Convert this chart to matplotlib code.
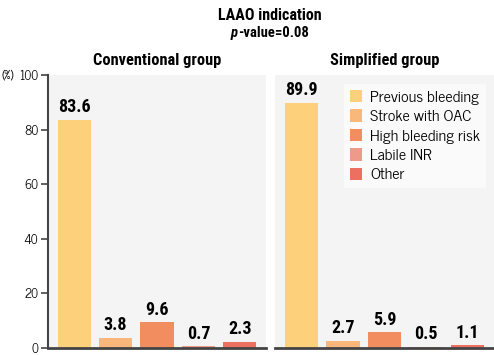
import matplotlib

matplotlib.use("Agg")

import matplotlib.pyplot as plt
from matplotlib.patches import Patch

categories = ["Previous bleeding", "Stroke with OAC", "High bleeding risk", "Labile INR", "Other"]
conventional = [83.6, 3.8, 9.6, 0.7, 2.3]
simplified = [89.9, 2.7, 5.9, 0.5, 1.1]
colors = ["#FDD07C", "#F9B77C", "#F28D5F", "#ED9A8B", "#EC6F60"]
yticks = [0, 20, 40, 60, 80, 100]

COND = ["Roboto Condensed", "Archivo Narrow", "Liberation Sans Narrow", "DejaVu Sans"]
PLAIN = ["News Cycle", "Liberation Sans", "DejaVu Sans"]
PANEL_BG = "#F4F4F4"
SPINE = "#444444"

fig = plt.figure(figsize=(4.94, 3.55), dpi=100)
ax_left = fig.add_axes([48 / 494, 7 / 355, 218 / 494, 273 / 355])
ax_right = fig.add_axes([275 / 494, 7 / 355, 219 / 494, 273 / 355])

x = list(range(len(categories)))
for axis, values, title in ((ax_left, conventional, "Conventional group"), (ax_right, simplified, "Simplified group")):
    axis.set_facecolor(PANEL_BG)
    axis.bar(x, values, width=0.8, color=colors)
    for xi, value in zip(x, values):
        axis.text(xi, value + 1.2, f"{value:.1f}", ha="center", va="bottom",
                  fontsize=13, fontweight="bold", family=COND)
    axis.set_xlim(-0.63, 4.63)
    axis.set_ylim(0, 100)
    axis.set_xticks([])
    for side in ("top", "right"):
        axis.spines[side].set_visible(False)
    axis.spines["bottom"].set_color(SPINE)
    axis.spines["bottom"].set_linewidth(2.0)
    axis.set_title(title, fontsize=11.8, fontweight="bold", family=COND, pad=7)

ax_left.spines["left"].set_color(SPINE)
ax_left.spines["left"].set_linewidth(1.5)
ax_left.set_yticks(yticks)
ax_left.set_yticklabels([str(v) for v in yticks], fontsize=9, family=PLAIN)
ax_left.tick_params(axis="y", length=5, width=1.2, color=SPINE, pad=2)
# "(%)" sits at the far left edge, level with the 100 tick
fig.text(1 / 494, 1 - 75 / 355, "(%)", ha="left", va="center", fontsize=8.5, family=PLAIN)

ax_right.spines["left"].set_visible(False)
ax_right.set_yticks([])

handles = [Patch(facecolor=c, edgecolor="none") for c in colors]
ax_right.legend(handles, categories, loc="upper right", bbox_to_anchor=(1.0, 0.995),
                prop={"family": PLAIN, "size": 11.5}, frameon=True, fancybox=False,
                handlelength=0.8, handleheight=0.8, handletextpad=0.5, labelspacing=0.3,
                borderpad=0.35, facecolor="#FAFAFA", edgecolor="none", framealpha=1.0)

fig.text(270 / 494, 1 - 15 / 355, "LAAO indication", ha="center", va="center",
         fontsize=11.5, fontweight="bold", family=COND)
p_text = fig.text(231 / 494, 1 - 33 / 355, "p", ha="left", va="center", style="italic",
                  fontsize=10.5, fontweight="bold", family=COND)
fig.text(0, 0, "")
plt.annotate("-value=0.08", xy=(1, 0), xycoords=p_text, ha="left", va="bottom",
             fontsize=10.5, fontweight="bold", family=COND)

fig.savefig("out.png", dpi=100)
